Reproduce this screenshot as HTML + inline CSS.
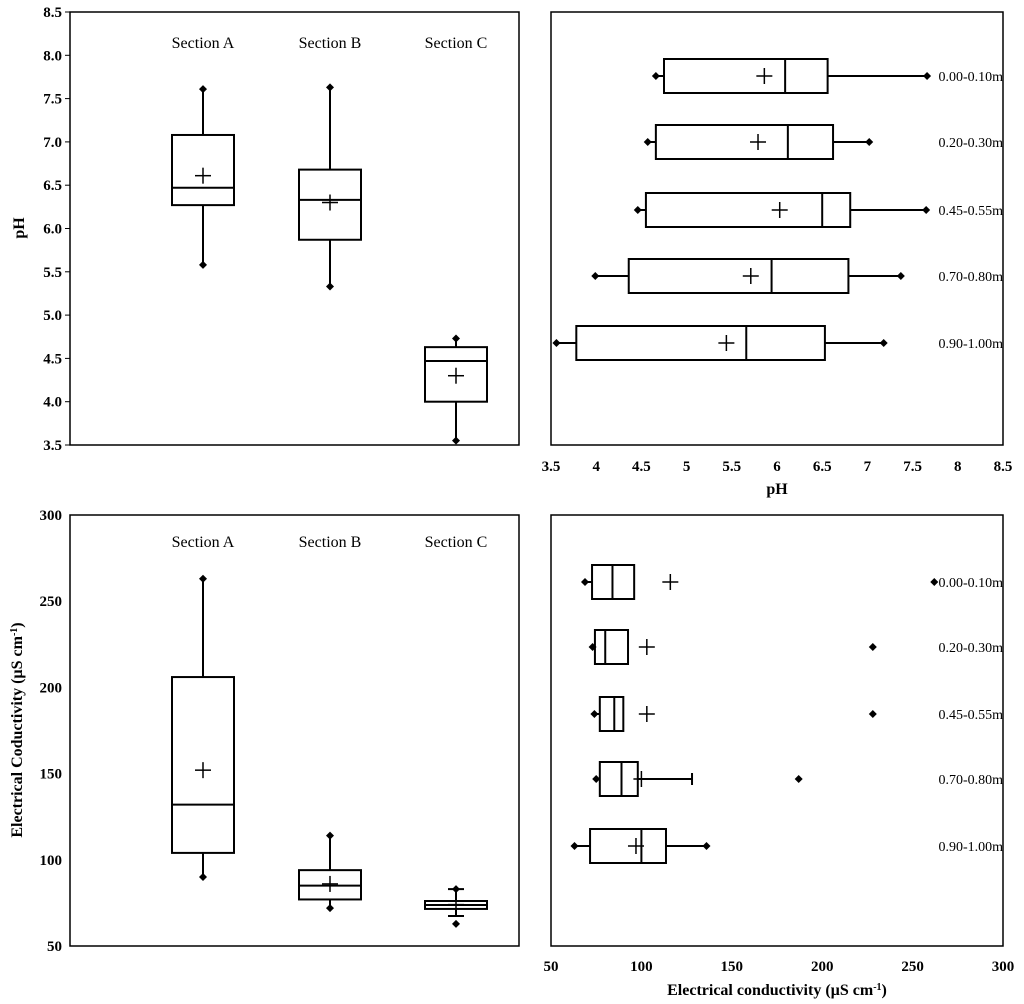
<!DOCTYPE html>
<html><head><meta charset="utf-8"><style>
html,body{margin:0;padding:0;background:#fff;}
svg{display:block;font-family:"Liberation Serif",serif;}
</style></head><body>
<svg id="chart" width="1024" height="1004" viewBox="0 0 1024 1004" xmlns="http://www.w3.org/2000/svg"></svg>
<script>
// ---- data ----
const sections = ["Section A","Section B","Section C"];
const phSecMin = [5.58,5.33,3.55];
const phSecQ1 = [6.27,5.87,4.0];
const phSecMed = [6.47,6.33,4.47];
const phSecQ3 = [7.08,6.68,4.63];
const phSecMax = [7.61,7.63,4.73];
const phSecMean = [6.61,6.30,4.30];
const depths = ["0.00-0.10m","0.20-0.30m","0.45-0.55m","0.70-0.80m","0.90-1.00m"];
const phDepMin = [4.66,4.57,4.46,3.99,3.56];
const phDepQ1 = [4.75,4.66,4.55,4.36,3.78];
const phDepMed = [6.09,6.12,6.50,5.94,5.66];
const phDepQ3 = [6.56,6.62,6.81,6.79,6.53];
const phDepMax = [7.66,7.02,7.65,7.37,7.18];
const phDepMean = [5.86,5.79,6.03,5.71,5.44];
const ecSecMin = [90,72,67.4];
const ecSecQ1 = [104,77,71.5];
const ecSecMed = [132,85,73.8];
const ecSecQ3 = [206,94,76.1];
const ecSecMax = [263,114,83];
const ecSecMean = [152,86,74];
const ecSecOut = [null,null,62.8];
const ecDepMin = [68.8,73,74,75,63];
const ecDepQ1 = [72.7,74.3,77,77,71.6];
const ecDepMed = [84,80,85,89,100];
const ecDepQ3 = [96,92.6,90,98,113.6];
const ecDepMax = [null,null,null,128,136];
const ecDepMean = [116,103,103,100,97];
const ecDepOut = [262,228,228,187,null];
const phTicks = [3.5,4.0,4.5,5.0,5.5,6.0,6.5,7.0,7.5,8.0,8.5];
const phTicksH = ["3.5","4","4.5","5","5.5","6","6.5","7","7.5","8","8.5"];
const ecTicks = [50,100,150,200,250,300];

const svg=document.getElementById('chart');
const NS="http://www.w3.org/2000/svg";
function mk(tag,attrs,name,txt){
  const e=document.createElementNS(NS,tag);
  for(const k in attrs)e.setAttribute(k,attrs[k]);
  
  
  if(txt!==undefined)e.textContent=txt;
  svg.appendChild(e);return e;
}
function ln(x1,y1,x2,y2,name,w){return mk('line',{x1,y1,x2,y2,stroke:'#000','stroke-width':w||2},name);}
function dia(x,y,name){return mk('path',{d:`M${x-4} ${y}L${x} ${y-4}L${x+4} ${y}L${x} ${y+4}Z`,fill:'#000'},name);}
function plus(x,y,name){ln(x-8,y,x+8,y,name,1.5);ln(x,y-8,x,y+8,name,1.5);}

// axes
const yPh=v=>12+(8.5-v)*86.6;
const xPh=v=>551+(v-3.5)*90.4;
const yEc=v=>946-(v-50)*1.724;
const xEc=v=>551+(v-50)*1.808;
const secX=[203,330,456];
const rowY1=[76,142,210,276,343];
const rowY2=[582,647,714,779,846];

// frames
mk('rect',{x:70,y:12,width:449,height:433,fill:'none',stroke:'#000','stroke-width':1.5},'ph-section-frame');
mk('rect',{x:551,y:12,width:452,height:433,fill:'none',stroke:'#000','stroke-width':1.5},'ph-depth-frame');
mk('rect',{x:70,y:515,width:449,height:431,fill:'none',stroke:'#000','stroke-width':1.5},'ec-section-frame');
mk('rect',{x:551,y:515,width:452,height:431,fill:'none',stroke:'#000','stroke-width':1.5},'ec-depth-frame');

// ticks
phTicks.forEach((t,i)=>{
  mk('text',{x:62,y:yPh(t)+5,'text-anchor':'end','font-size':15,'font-weight':'bold'},'y-tick-label',t.toFixed(1));
  ln(70,yPh(t),65,yPh(t),'y-tick',1);
  mk('text',{x:xPh(t),y:471,'text-anchor':'middle','font-size':15,'font-weight':'bold'},'x-tick-label',phTicksH[i]);
});
ecTicks.forEach(t=>{
  mk('text',{x:62,y:yEc(t)+5,'text-anchor':'end','font-size':15,'font-weight':'bold'},'y-tick-label',String(t));
  mk('text',{x:xEc(t),y:971,'text-anchor':'middle','font-size':15,'font-weight':'bold'},'x-tick-label',String(t));
});
mk('text',{x:0,y:0,transform:'translate(24,228) rotate(-90)','text-anchor':'middle','font-size':16,'font-weight':'bold'},'y-axis-title','pH');
mk('text',{x:777,y:494,'text-anchor':'middle','font-size':16,'font-weight':'bold'},'x-axis-title','pH');
const yt=mk('text',{x:0,y:0,transform:'translate(22,730) rotate(-90)','text-anchor':'middle','font-size':16,'font-weight':'bold'},'y-axis-title','Electrical Coductivity (µS cm');
const s1=document.createElementNS(NS,'tspan');s1.setAttribute('baseline-shift','super');s1.setAttribute('font-size','10');s1.textContent='-1';yt.appendChild(s1);
const r1=document.createElementNS(NS,'tspan');r1.textContent=')';yt.appendChild(r1);
const xt=mk('text',{x:777,y:995,'text-anchor':'middle','font-size':16,'font-weight':'bold'},'x-axis-title','Electrical conductivity (µS cm');
const s2=document.createElementNS(NS,'tspan');s2.setAttribute('baseline-shift','super');s2.setAttribute('font-size','10');s2.textContent='-1';xt.appendChild(s2);
const r2=document.createElementNS(NS,'tspan');r2.textContent=')';xt.appendChild(r2);

// vertical boxes
function vbox(c,mn,q1,md,q3,mx,mean,out,ys,name,capW){
  if(mx!=null){ln(c,ys(q3),c,ys(mx),name+'-whisker');dia(c,ys(mx),name+'-max');if(capW)ln(c-capW,ys(mx),c+capW,ys(mx),name+'-cap');}
  if(mn!=null){ln(c,ys(q1),c,ys(mn),name+'-whisker');if(capW)ln(c-capW,ys(mn),c+capW,ys(mn),name+'-cap');else dia(c,ys(mn),name+'-min');}
  mk('rect',{x:c-31,y:ys(q3),width:62,height:ys(q1)-ys(q3),fill:'none',stroke:'#000','stroke-width':2},name+'-box');
  ln(c-31,ys(md),c+31,ys(md),name+'-median');
  plus(c,ys(mean),name+'-mean');
  if(out!=null)dia(c,ys(out),name+'-outlier');
}
sections.forEach((s,i)=>{
  mk('text',{x:secX[i],y:48,'text-anchor':'middle','font-size':16},'section-label',s);
  vbox(secX[i],phSecMin[i],phSecQ1[i],phSecMed[i],phSecQ3[i],phSecMax[i],phSecMean[i],null,yPh,'ph-'+i,0);
  mk('text',{x:secX[i],y:547,'text-anchor':'middle','font-size':16},'section-label',s);
  vbox(secX[i],ecSecMin[i],ecSecQ1[i],ecSecMed[i],ecSecQ3[i],ecSecMax[i],ecSecMean[i],ecSecOut[i],yEc,'ec-'+i,i==2?8:0);
});

// horizontal boxes
function hbox(r,mn,q1,md,q3,mx,mean,out,xs,name,capMax){
  if(mn!=null){ln(xs(mn),r,xs(q1),r,name+'-whisker');dia(xs(mn),r,name+'-min');}
  if(mx!=null){ln(xs(q3),r,xs(mx),r,name+'-whisker');if(capMax)ln(xs(mx),r-6,xs(mx),r+6,name+'-cap');else dia(xs(mx),r,name+'-max');}
  mk('rect',{x:xs(q1),y:r-17,width:xs(q3)-xs(q1),height:34,fill:'none',stroke:'#000','stroke-width':2},name+'-box');
  ln(xs(md),r-17,xs(md),r+17,name+'-median');
  plus(xs(mean),r,name+'-mean');
  if(out!=null)dia(xs(out),r,name+'-outlier');
}
depths.forEach((d,i)=>{
  hbox(rowY1[i],phDepMin[i],phDepQ1[i],phDepMed[i],phDepQ3[i],phDepMax[i],phDepMean[i],null,xPh,'ph-depth-'+i,false);
  mk('text',{x:1003,y:rowY1[i]+5,'text-anchor':'end','font-size':14},'depth-label',d);
  hbox(rowY2[i],ecDepMin[i],ecDepQ1[i],ecDepMed[i],ecDepQ3[i],ecDepMax[i],ecDepMean[i],ecDepOut[i],xEc,'ec-depth-'+i,i==3);
  mk('text',{x:1003,y:rowY2[i]+5,'text-anchor':'end','font-size':14},'depth-label',d);
});
</script>
</body></html>
